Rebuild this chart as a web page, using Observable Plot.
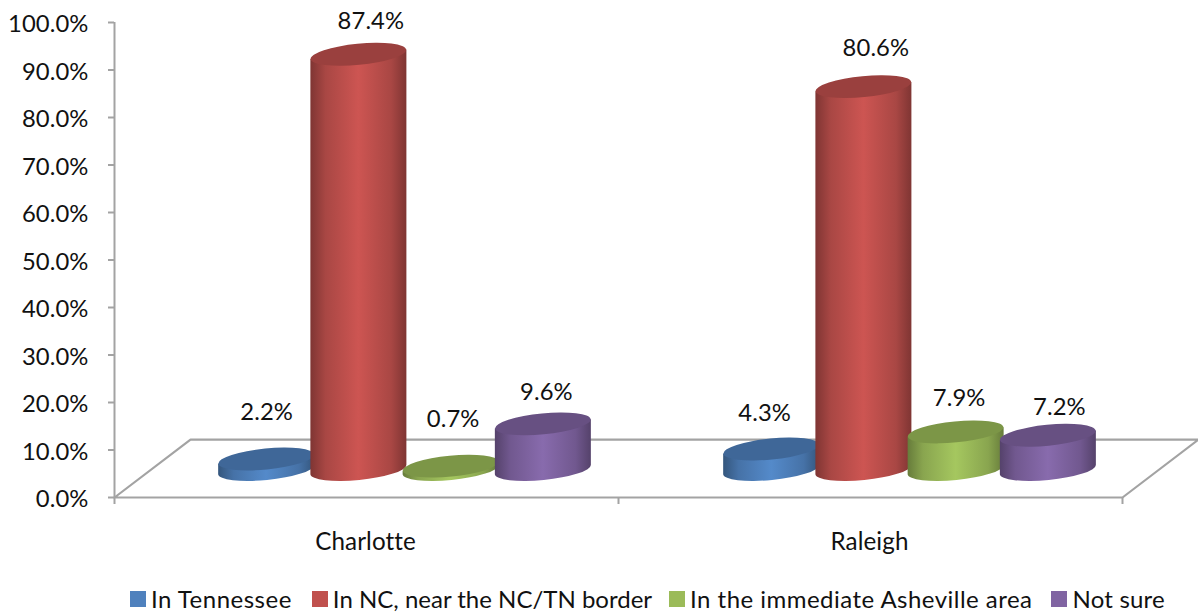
<!DOCTYPE html>
<html>
<head>
<meta charset="utf-8">
<script src="https://cdn.jsdelivr.net/npm/d3@7"></script>
<script src="https://cdn.jsdelivr.net/npm/@observablehq/plot@0.6"></script>
<style>
  html, body { margin: 0; padding: 0; background: #fff; overflow: hidden; }
  #legend { position: absolute; left: 130px; top: 584px; width: 1068px; height: 28px; white-space: nowrap; }
  #legend > * { margin: 0 !important; min-height: 0 !important; flex-wrap: nowrap !important; }
  #legend span { margin-right: 20px !important; }
  #legend span:nth-of-type(2) { letter-spacing: 0 !important; margin-right: 17px !important; }
  #legend span:nth-of-type(3) { letter-spacing: 0.47px !important; margin-right: 19px !important; }
  #legend span:nth-of-type(4) { letter-spacing: 0.2px !important; }
  #legend svg { margin-right: 5px !important; }
</style>
</head>
<body>
<div id="chart"></div>
<div id="legend"></div>
<script>
// Survey shares by city, in percent.
const cities = ["Charlotte", "Raleigh"];
const seriesNames = ["In Tennessee", "In NC, near the NC/TN border", "In the immediate Asheville area", "Not sure"];
const charlotteValues = [2.2, 87.4, 0.7, 9.6];
const raleighValues = [4.3, 80.6, 7.9, 7.2];
const seriesColors = ["#4F81BD", "#C0504D", "#9BBB59", "#8064A2"];
const yTicks = [0, 10, 20, 30, 40, 50, 60, 70, 80, 90, 100];

// Pseudo-3D floor: how far the back edge recedes, in scale units.
const depthX = 0.1508;
const depthY = 12.2;
const cityCenters = [0.498, 1.5];
const barShiftX = depthX / 2 + 0.003;
const barShiftY = 5.8;
const barStep = 0.183;
const barRadiusX = 48;
const barRadiusY = 10.5;
const tiltDegrees = -5.6;

// Value-label nudges in pixels, relative to the centre of each cylinder's top.
const labelDx = [[0, 12, 2, 3], [-7, 12, 3, 11]];
const labelDy = [[-47, -33, -47, -32], [-36, -39, -34, -28]];

const axisColor = "#a3a3a3";
const fontFamily = "Lato, sans-serif";
const inkColor = "#111";

const rows = cities.flatMap((city, c) =>
  [charlotteValues, raleighValues][c].map((value, s) => ({
    city,
    series: seriesNames[s],
    value,
    color: seriesColors[s],
    pos: cityCenters[c] + (s - 1.5) * barStep + barShiftX,
    top: value + barShiftY,
    dx: labelDx[c][s],
    dy: labelDy[c][s]
  }))
);

const floorOutline = [
  {x: 0, y: 0}, {x: 2, y: 0}, {x: 2 + depthX, y: depthY}, {x: depthX, y: depthY}, {x: 0, y: 0}
];

// Draws each row as a tilted cylinder standing on the floor plane.
function cylinders(index, scales, channels) {
  const svg = d3.create("svg:g");
  const defs = svg.append("defs");
  const baseY = scales.y(barShiftY);
  const t = tiltDegrees * Math.PI / 180;
  const ox = barRadiusX, oy = barRadiusX * Math.sin(t);
  for (const i of index) {
    const cx = channels.x[i], topY = channels.y[i], color = rows[i].color;
    const id = `cyl-${i}`;
    const mid = d3.color(color).brighter(0.18).formatHex();
    const shade = d3.color(color).darker(0.35).formatHex();
    const edge = d3.color(color).darker(1.15).formatHex();
    const grad = defs.append("linearGradient").attr("id", id);
    [[0, edge], [0.16, shade], [0.5, mid], [0.84, shade], [1, edge]].forEach(([o, c]) =>
      grad.append("stop").attr("offset", o).attr("stop-color", c));
    const arc = `A${barRadiusX} ${barRadiusY} ${tiltDegrees} 0 0`;
    svg.append("path")
      .attr("fill", `url(#${id})`)
      .attr("d", `M${cx - ox} ${topY - oy}L${cx - ox} ${baseY - oy}${arc} ${cx + ox} ${baseY + oy}L${cx + ox} ${topY + oy}Z`);
    svg.append("ellipse")
      .attr("cx", cx).attr("cy", topY)
      .attr("rx", barRadiusX).attr("ry", barRadiusY)
      .attr("transform", `rotate(${tiltDegrees} ${cx} ${topY})`)
      .attr("fill", d3.color(color).darker(0.62).formatHex());
  }
  return svg.node();
}

const chart = Plot.plot({
  width: 1198,
  height: 582,
  marginLeft: 114,
  marginRight: 76,
  marginTop: 22,
  marginBottom: 85,
  style: {fontFamily, fontSize: "23.8px", color: inkColor, background: "#fff", overflow: "visible", letterSpacing: "0.1px"},
  x: {domain: [0, 2], axis: null},
  y: {domain: [0, 100], axis: null},
  marks: [
    Plot.line(floorOutline, {x: "x", y: "y", stroke: axisColor, strokeWidth: 2.2}),
    Plot.ruleX([0], {y1: 0, y2: 100, stroke: axisColor, strokeWidth: 2}),
    Plot.axisY({
      ticks: yTicks, tickSize: 6, stroke: axisColor, strokeWidth: 2, label: null,
      tickFormat: () => ""
    }),
    Plot.axisY({
      ticks: yTicks, tickSize: 0, tickPadding: 26, dy: 2, fill: inkColor, label: null,
      tickFormat: d => d.toFixed(1) + "%"
    }),
    Plot.axisX({
      ticks: [0, 1, 2], tickSize: 7, stroke: axisColor, strokeWidth: 2, label: null,
      tickFormat: () => ""
    }),
    Plot.axisX({
      ticks: [0.5, 1.5], tickSize: 0, tickPadding: 35, fill: inkColor, label: null,
      fontSize: 24.2, dx: -1, tickFormat: d => cities[Math.floor(d)]
    }),
    Plot.dot(rows, {x: "pos", y: "top", r: 0, render: cylinders}),
    ...rows.map(d => Plot.text([d], {
      x: "pos", y: "top", dx: d.dx, dy: d.dy, fill: inkColor,
      text: r => r.value.toFixed(1) + "%"
    }))
  ]
});
document.getElementById("chart").append(chart);

const legend = Plot.legend({
  color: {domain: seriesNames, range: seriesColors, type: "ordinal"},
  swatchSize: 16,
  style: {fontFamily, fontSize: "24px", color: inkColor, letterSpacing: "0.5px"}
});
document.getElementById("legend").append(legend);
</script>
</body>
</html>
